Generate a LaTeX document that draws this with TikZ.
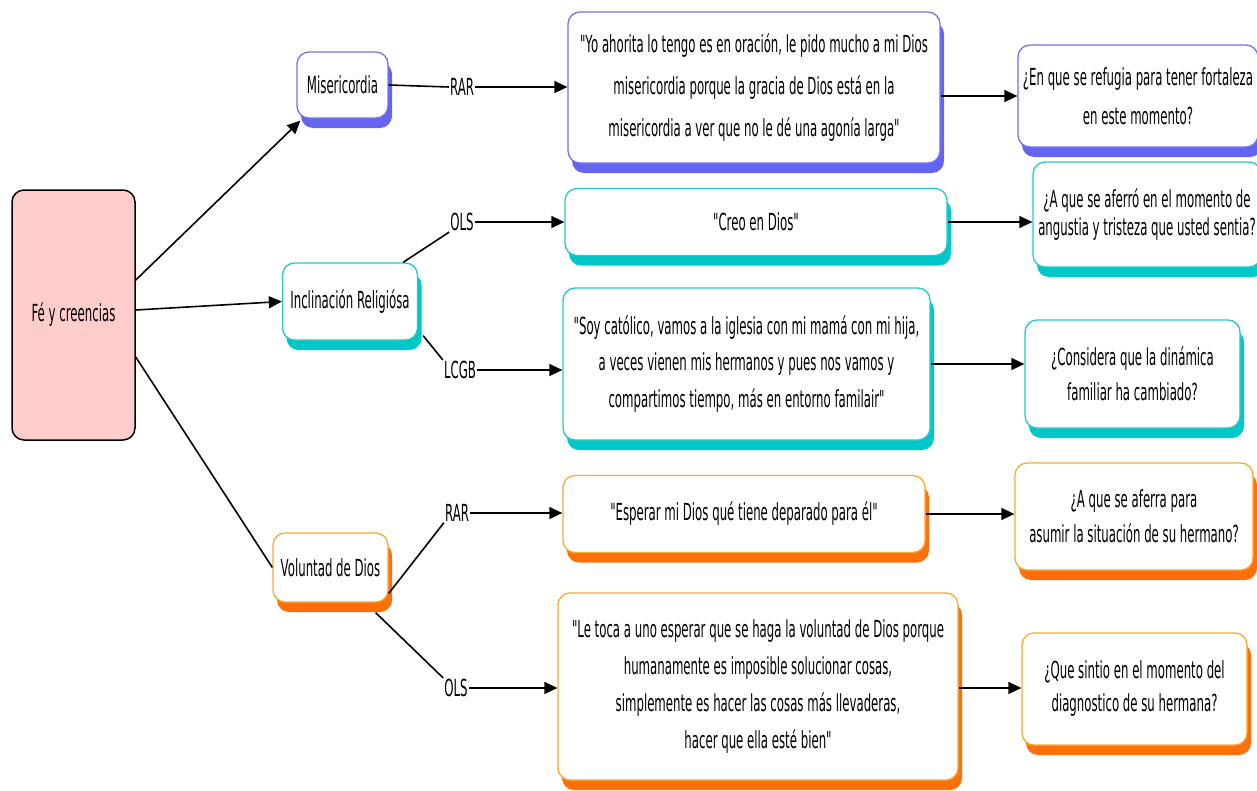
\documentclass[tikz,border=0pt]{standalone}
\usepackage{fontspec}
\setmainfont{DejaVu Sans}[FakeStretch=0.5, Ligatures=TeXOff]
\usetikzlibrary{shadows,arrows.meta}
\definecolor{bB}{RGB}{115,115,240}
\definecolor{bS}{RGB}{100,100,240}
\definecolor{tB}{RGB}{40,200,200}
\definecolor{tS}{RGB}{0,200,200}
\definecolor{oB}{RGB}{245,170,50}
\definecolor{oS}{RGB}{255,112,10}
\definecolor{pinkf}{RGB}{255,204,204}
\newcommand{\fz}[1]{\fontsize{23.5}{#1}\selectfont}
\tikzset{
  box/.style={fill=white, rounded corners=12pt, line width=1.3pt, align=center, inner sep=2pt, font=\fz{36}},
  bluebox/.style={box, draw=bB, general shadow={fill=bS, shadow xshift=4pt, shadow yshift=-10pt}},
  tealbox/.style={box, draw=tB, general shadow={fill=tS, shadow xshift=4pt, shadow yshift=-10pt}},
  orangebox/.style={box, draw=oB, general shadow={fill=oS, shadow xshift=4pt, shadow yshift=-10pt}},
  lbl/.style={inner sep=1pt, font=\fz{24}},
  con/.style={line width=1.6pt, black},
  arr/.style={con, -{Triangle[length=13pt,width=12pt]}},
}
\begin{document}
\begin{tikzpicture}[x=1pt,y=-1pt]
\useasboundingbox (0,0) rectangle (1257,790);
% root
\node[draw=black, fill=pinkf, rounded corners=12pt, line width=1.5pt, minimum width=123pt, minimum height=250pt, font=\fz{24}] (root) at (73.5,315) {Fé y creencias};
% second level
\node[bluebox, minimum width=91pt, minimum height=66pt] (mis) at (342.5,85) {Misericordia};
\node[tealbox, minimum width=135pt, minimum height=77pt] (inc) at (350,301.5) {Inclinación Religiósa};
\node[orangebox, minimum width=115pt, minimum height=69pt] (vol) at (330.5,567.5) {Voluntad de Dios};
% labels
\node[lbl] (rar1) at (462,87) {RAR};
\node[lbl] (ols1) at (462,222) {OLS};
\node[lbl] (lcgb) at (460,370) {LCGB};
\node[lbl] (rar2) at (457,513) {RAR};
\node[lbl] (ols2) at (456,688) {OLS};
% quotes
\node[bluebox, minimum width=372pt, minimum height=151pt, font=\fz{42}] (q1) at (754,87.5) {"Yo ahorita lo tengo es en oración, le pido mucho a mi Dios\\misericordia porque la gracia de Dios está en la\\misericordia a ver que no le dé una agonía larga"};
\node[tealbox, minimum width=382pt, minimum height=67pt] (q2) at (756,222) {"Creo en Dios"};
\node[tealbox, minimum width=367pt, minimum height=152pt, font=\fz{36.5}] (q3) at (746.5,364) {"Soy católico, vamos a la iglesia con mi mamá con mi hija,\\a veces vienen mis hermanos y pues nos vamos y\\compartimos tiempo, más en entorno familair"};
\node[orangebox, minimum width=362pt, minimum height=77pt] (q4) at (744,514) {"Esperar mi Dios qué tiene deparado para él"};
\node[orangebox, minimum width=400pt, minimum height=187pt, font=\fz{37}] (q5) at (758,686.5) {"Le toca a uno esperar que se haga la voluntad de Dios porque\\humanamente es imposible solucionar cosas,\\simplemente es hacer las cosas más llevaderas,\\hacer que ella esté bien"};
% questions
\node[bluebox, minimum width=240pt, minimum height=102pt, font=\fz{39}] (p1) at (1138,96) {¿En que se refugia para tener fortaleza\\en este momento?};
\node[tealbox, minimum width=228pt, minimum height=105pt, font=\fz{28}] (p2) at (1147,214.5) {¿A que se aferró en el momento de\\angustia y tristeza que usted sentia?};
\node[tealbox, minimum width=215pt, minimum height=108pt, font=\fz{35}] (p3) at (1132.5,374) {¿Considera que la dinámica\\familiar ha cambiado?};
\node[orangebox, minimum width=238pt, minimum height=107pt, font=\fz{35}] (p4) at (1134,516.5) {¿A que se aferra para\\asumir la situación de su hermano?};
\node[orangebox, minimum width=225pt, minimum height=112pt, font=\fz{33}] (p5) at (1134.5,689) {¿Que sintio en el momento del\\diagnostico de su hermana?};
% root connectors
\draw[arr] ([yshift=35pt]root.east) -- ([xshift=4pt,yshift=-2pt]mis.south west);
\draw[arr] ([yshift=5pt]root.east) -- (inc.west);
\draw[con] ([yshift=-42pt]root.east) -- (vol.west);
% second level connectors
\draw[con] (mis.east) -- (rar1.west);
\draw[arr] (rar1.east) -- (rar1.east -| q1.west);
\draw[con] ([xshift=-15pt]inc.north east) -- (ols1.south west);
\draw[arr] (ols1.east) -- (ols1.east -| q2.west);
\draw[con] ([xshift=5pt,yshift=5pt]inc.south east) -- (lcgb.north west);
\draw[arr] (lcgb.east) -- (lcgb.east -| q3.west);
\draw[con] ([yshift=-26pt]vol.east) -- (rar2.south west);
\draw[arr] (rar2.east) -- (rar2.east -| q4.west);
\draw[con] ([xshift=-13pt,yshift=-10pt]vol.south east) -- (ols2.north west);
\draw[arr] (ols2.east) -- (ols2.east -| q5.west);
% to questions
\draw[arr] (q1.east |- p1.west) -- (p1.west);
\draw[arr] (q2.east) -- (q2.east -| p2.west);
\draw[arr] (q3.east) -- (q3.east -| p3.west);
\draw[arr] (q4.east) -- (q4.east -| p4.west);
\draw[arr] (q5.east |- ols2.east) -- (ols2.east -| p5.west);
\end{tikzpicture}
\end{document}
